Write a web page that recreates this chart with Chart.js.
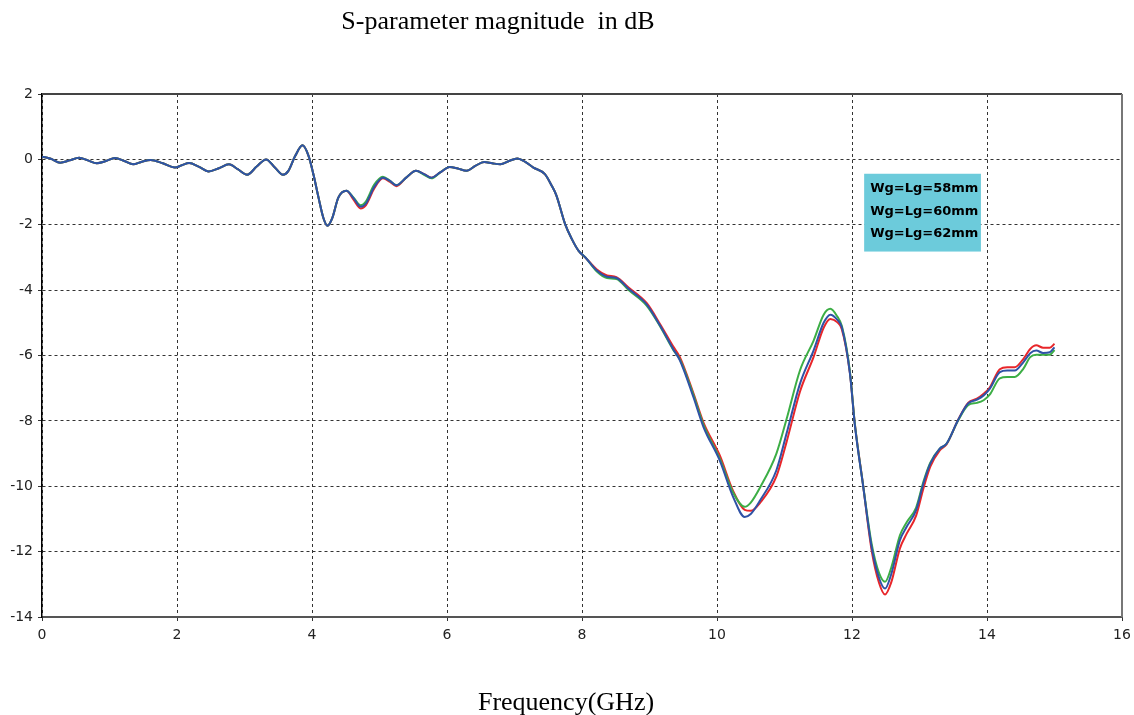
<!DOCTYPE html>
<html>
<head>
<meta charset="utf-8">
<title>S-parameter magnitude in dB</title>
<script src="https://cdn.jsdelivr.net/npm/chart.js@4.4.1/dist/chart.umd.min.js"></script>
<style>
    html, body { margin: 0; padding: 0; background: #fff; }
    #wrap { width: 1134px; height: 715px; }
</style>
</head>
<body>
<div id="wrap"><canvas id="sparChart" width="1134" height="715"></canvas></div>
<script>
// Frequency points (GHz), shared by all three curves
const freq = [
    0, 0.13, 0.27, 0.41, 0.55, 0.68, 0.81, 0.95, 1.08, 1.22,
    1.35, 1.48, 1.61, 1.79, 1.97, 2.07, 2.18, 2.32, 2.47, 2.62,
    2.77, 2.90, 3.04, 3.18, 3.32, 3.45, 3.57, 3.65, 3.75, 3.86,
    3.95, 4.02, 4.10, 4.17, 4.23, 4.30, 4.39, 4.51, 4.62, 4.72,
    4.80, 4.92, 5.05, 5.15, 5.25, 5.40, 5.54, 5.66, 5.77, 5.90,
    6.04, 6.16, 6.29, 6.42, 6.55, 6.67, 6.79, 6.92, 7.04, 7.16,
    7.28, 7.45, 7.55, 7.62, 7.75, 7.85, 7.95, 8.05, 8.22, 8.37,
    8.51, 8.69, 8.96, 9.16, 9.35, 9.45, 9.65, 9.80, 10.04, 10.24,
    10.41, 10.50, 10.64, 10.88, 11.03, 11.23, 11.43, 11.58, 11.68, 11.78,
    11.85, 11.97, 12.04, 12.16, 12.29, 12.40, 12.49, 12.58, 12.71, 12.81,
    12.95, 13.06, 13.16, 13.30, 13.40, 13.57, 13.72, 13.85, 13.95, 14.04,
    14.19, 14.30, 14.41, 14.54, 14.64, 14.73, 14.83, 14.93, 15.00
];

// Wg=Lg=58mm (red)
const s58 = [
    0.08, 0.02, -0.10, -0.03, 0.05, -0.03, -0.12, -0.05, 0.04, -0.05,
    -0.15, -0.07, -0.02, -0.12, -0.25, -0.18, -0.11, -0.22, -0.37, -0.27,
    -0.15, -0.30, -0.47, -0.22, 0.00, -0.25, -0.47, -0.35, 0.10, 0.43,
    0.10, -0.45, -1.20, -1.80, -2.03, -1.80, -1.17, -0.96, -1.25, -1.50,
    -1.40, -0.90, -0.58, -0.68, -0.82, -0.55, -0.35, -0.45, -0.56, -0.40,
    -0.23, -0.28, -0.35, -0.20, -0.08, -0.12, -0.15, -0.05, 0.03, -0.08,
    -0.25, -0.45, -0.80, -1.10, -1.98, -2.44, -2.80, -3.00, -3.37, -3.55,
    -3.60, -3.92, -4.40, -5.05, -5.72, -6.05, -7.15, -8.05, -9.05, -10.15,
    -10.72, -10.75, -10.50, -9.70, -8.65, -7.10, -6.05, -5.15, -4.88, -4.98,
    -5.20, -6.55, -8.05, -9.90, -11.95, -12.95, -13.31, -12.95, -11.90, -11.45,
    -10.90, -10.05, -9.40, -8.90, -8.72, -7.98, -7.45, -7.32, -7.17, -6.98,
    -6.42, -6.36, -6.36, -6.10, -5.80, -5.69, -5.76, -5.76, -5.64
];

// Wg=Lg=60mm (green)
const s60 = [
    0.08, 0.02, -0.10, -0.03, 0.05, -0.03, -0.12, -0.05, 0.04, -0.05,
    -0.15, -0.07, -0.02, -0.12, -0.25, -0.18, -0.11, -0.22, -0.37, -0.27,
    -0.15, -0.30, -0.47, -0.22, 0.00, -0.25, -0.47, -0.35, 0.10, 0.43,
    0.10, -0.45, -1.20, -1.80, -2.03, -1.80, -1.17, -0.96, -1.18, -1.40,
    -1.28, -0.78, -0.53, -0.65, -0.79, -0.55, -0.35, -0.47, -0.58, -0.40,
    -0.23, -0.28, -0.35, -0.20, -0.08, -0.12, -0.15, -0.05, 0.03, -0.08,
    -0.25, -0.45, -0.80, -1.10, -1.98, -2.44, -2.80, -3.00, -3.43, -3.63,
    -3.66, -4.00, -4.48, -5.12, -5.82, -6.12, -7.20, -8.12, -9.15, -10.20,
    -10.63, -10.50, -10.03, -9.00, -7.95, -6.45, -5.55, -4.75, -4.57, -4.80,
    -5.10, -6.50, -8.05, -9.90, -11.75, -12.65, -12.92, -12.50, -11.50, -11.10,
    -10.65, -9.85, -9.28, -8.85, -8.70, -8.00, -7.52, -7.45, -7.37, -7.20,
    -6.70, -6.66, -6.66, -6.40, -6.05, -5.98, -5.98, -5.98, -5.83
];

// Wg=Lg=62mm (blue)
const s62 = [
    0.08, 0.02, -0.10, -0.03, 0.05, -0.03, -0.12, -0.05, 0.04, -0.05,
    -0.15, -0.07, -0.02, -0.12, -0.25, -0.18, -0.11, -0.22, -0.37, -0.27,
    -0.15, -0.30, -0.47, -0.22, 0.00, -0.25, -0.47, -0.35, 0.10, 0.43,
    0.10, -0.45, -1.20, -1.80, -2.03, -1.80, -1.17, -0.96, -1.20, -1.45,
    -1.35, -0.85, -0.56, -0.65, -0.79, -0.55, -0.35, -0.45, -0.56, -0.40,
    -0.23, -0.28, -0.35, -0.20, -0.08, -0.12, -0.15, -0.05, 0.03, -0.08,
    -0.25, -0.45, -0.80, -1.10, -1.98, -2.44, -2.80, -3.00, -3.40, -3.59,
    -3.63, -3.96, -4.44, -5.10, -5.80, -6.15, -7.27, -8.19, -9.21, -10.33,
    -10.94, -10.85, -10.43, -9.51, -8.39, -6.86, -5.85, -5.00, -4.75, -4.90,
    -5.14, -6.56, -8.09, -9.92, -11.85, -12.80, -13.13, -12.70, -11.65, -11.24,
    -10.73, -9.90, -9.31, -8.85, -8.70, -7.98, -7.47, -7.35, -7.22, -7.02,
    -6.51, -6.46, -6.46, -6.20, -5.93, -5.85, -5.92, -5.90, -5.75
];

const seriesLabels = ['Wg=Lg=58mm', 'Wg=Lg=60mm', 'Wg=Lg=62mm'];
const seriesColors = ['#e8262a', '#3cae45', '#2f52a6'];

const chartTitle = 'S-parameter magnitude  in dB';
const xTitle = 'Frequency(GHz)';

function toPoints(values) {
    return values.map((v, i) => ({ x: freq[i], y: v }));
}

// Titles, plot frame and the cyan legend box
const decorations = {
    id: 'decorations',
    beforeDatasetsDraw(chart) {
        const ctx = chart.ctx;
        const a = chart.chartArea;
        ctx.save();
        ctx.lineWidth = 2;
        ctx.strokeStyle = '#444';
        ctx.beginPath();
        ctx.moveTo(a.left, a.top);
        ctx.lineTo(a.right, a.top);
        ctx.stroke();
        ctx.strokeStyle = '#777';
        ctx.beginPath();
        ctx.moveTo(a.right, a.top);
        ctx.lineTo(a.right, a.bottom);
        ctx.stroke();
        ctx.restore();
    },
    afterDraw(chart) {
        const ctx = chart.ctx;
        const xs = chart.scales.x;
        const ys = chart.scales.y;
        ctx.save();

        ctx.fillStyle = '#000';
        ctx.textAlign = 'center';
        ctx.textBaseline = 'middle';
        ctx.font = '26px "Liberation Serif", "Times New Roman", serif';
        ctx.fillText(chartTitle, 498, 22);
        ctx.fillText(xTitle, 566, 703);

        // legend box sits inside the plot, between 12.2 and 13.9 GHz
        const bx0 = xs.getPixelForValue(12.18);
        const bx1 = xs.getPixelForValue(13.91);
        const by0 = ys.getPixelForValue(-0.44);
        const by1 = ys.getPixelForValue(-2.82);
        ctx.fillStyle = '#6ccbdb';
        ctx.fillRect(bx0, by0, bx1 - bx0, by1 - by0);

        ctx.fillStyle = '#000';
        ctx.textAlign = 'left';
        ctx.font = 'bold 13px "DejaVu Sans", sans-serif';
        seriesLabels.forEach((label, i) => {
            ctx.fillText(label, bx0 + 6, by0 + 15 + i * 22.5);
        });
        ctx.restore();
    }
};

const tickFont = { family: '"DejaVu Sans", sans-serif', size: 14 };

new Chart(document.getElementById('sparChart'), {
    type: 'line',
    data: {
        datasets: seriesLabels.map((label, i) => ({
            label: label,
            data: toPoints([s58, s60, s62][i]),
            borderColor: seriesColors[i],
            borderWidth: 2,
            pointRadius: 0,
            fill: false,
            cubicInterpolationMode: 'monotone',
            order: 3 - i   // blue drawn on top
        }))
    },
    options: {
        responsive: false,
        animation: false,
        layout: {
            padding: { top: 94, right: 12, bottom: 0, left: 0 }
        },
        plugins: {
            legend: { display: false },
            title: { display: false },
            tooltip: { enabled: false }
        },
        scales: {
            x: {
                type: 'linear',
                min: 0,
                max: 16,
                ticks: {
                    stepSize: 2,
                    color: '#222',
                    font: tickFont,
                    padding: 6,
                    maxRotation: 0
                },
                grid: {
                    color: '#333',
                    lineWidth: 1,
                    tickLength: 4,
                    tickColor: '#333'
                },
                border: {
                    color: '#555',
                    width: 2,
                    dash: [3, 3]
                },
                afterFit(scale) {
                    scale.height = 98;
                    scale.paddingLeft = 0;
                    scale.paddingRight = 0;
                }
            },
            y: {
                min: -14,
                max: 2,
                ticks: {
                    stepSize: 2,
                    color: '#222',
                    font: tickFont,
                    padding: 5
                },
                grid: {
                    color: '#333',
                    lineWidth: 1,
                    tickLength: 4,
                    tickColor: '#333'
                },
                border: {
                    color: '#000',
                    width: 1.5,
                    dash: [3, 3]
                },
                afterFit(scale) {
                    scale.width = 42;
                    scale.paddingTop = 0;
                    scale.paddingBottom = 0;
                }
            }
        }
    },
    plugins: [decorations]
});
</script>
</body>
</html>
